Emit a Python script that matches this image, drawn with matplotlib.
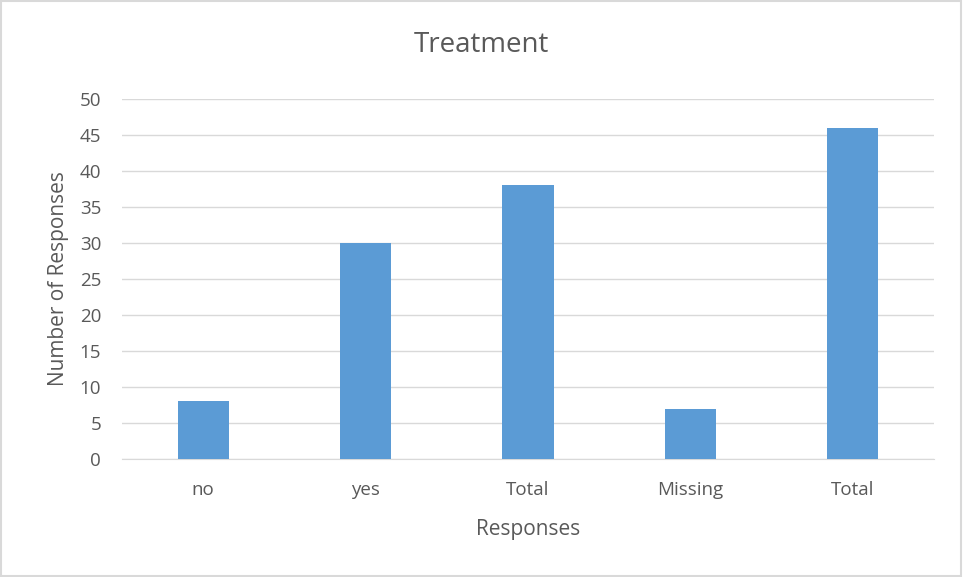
import matplotlib.pyplot as plt
from matplotlib.patches import Rectangle

categories = ['no', 'yes', 'Total', 'Missing', 'Total']
counts = [8, 30, 38, 7, 46]
y_ticks = [0, 5, 10, 15, 20, 25, 30, 35, 40, 45, 50]

BAR_COLOR = '#5B9BD5'
TEXT_COLOR = '#595959'
GRID_COLOR = '#D9D9D9'

plt.rcParams['font.family'] = ['Open Sans', 'DejaVu Sans']

fig = plt.figure(figsize=(9.63, 5.77), dpi=100)
ax = fig.add_axes([122 / 963, 1 - 459 / 577, 812 / 963, 360 / 577])

x = range(len(categories))
ax.bar(x, counts, width=0.315, color=BAR_COLOR, zorder=3)

ax.set_xlim(-0.5, len(categories) - 0.5)
ax.set_ylim(0, 50)
ax.set_yticks(y_ticks)
ax.set_xticks(list(x))
ax.set_xticklabels(categories)
ax.yaxis.grid(True, color=GRID_COLOR, linewidth=1, zorder=0)
ax.tick_params(axis='both', length=0, labelsize=13.5, colors=TEXT_COLOR)
ax.tick_params(axis='x', pad=16)
ax.tick_params(axis='y', pad=15)
for side in ['top', 'right', 'left']:
    ax.spines[side].set_visible(False)
ax.spines['bottom'].set_color(GRID_COLOR)
ax.spines['bottom'].set_zorder(1)

fig.text(0.5, 1 - 45 / 577, 'Treatment', fontsize=20, color=TEXT_COLOR,
         ha='center', va='center')
ax.set_xlabel('Responses', fontsize=15, color=TEXT_COLOR, labelpad=14)
ax.set_ylabel('Number of Responses', fontsize=15, color=TEXT_COLOR, labelpad=8)

# thin frame around the chart area
fig.patches.append(Rectangle((0.001, 0.002), 0.997, 0.996, transform=fig.transFigure,
                             fill=False, edgecolor='#D9D9D9', linewidth=1.5))

fig.savefig('out.png', dpi=100)
